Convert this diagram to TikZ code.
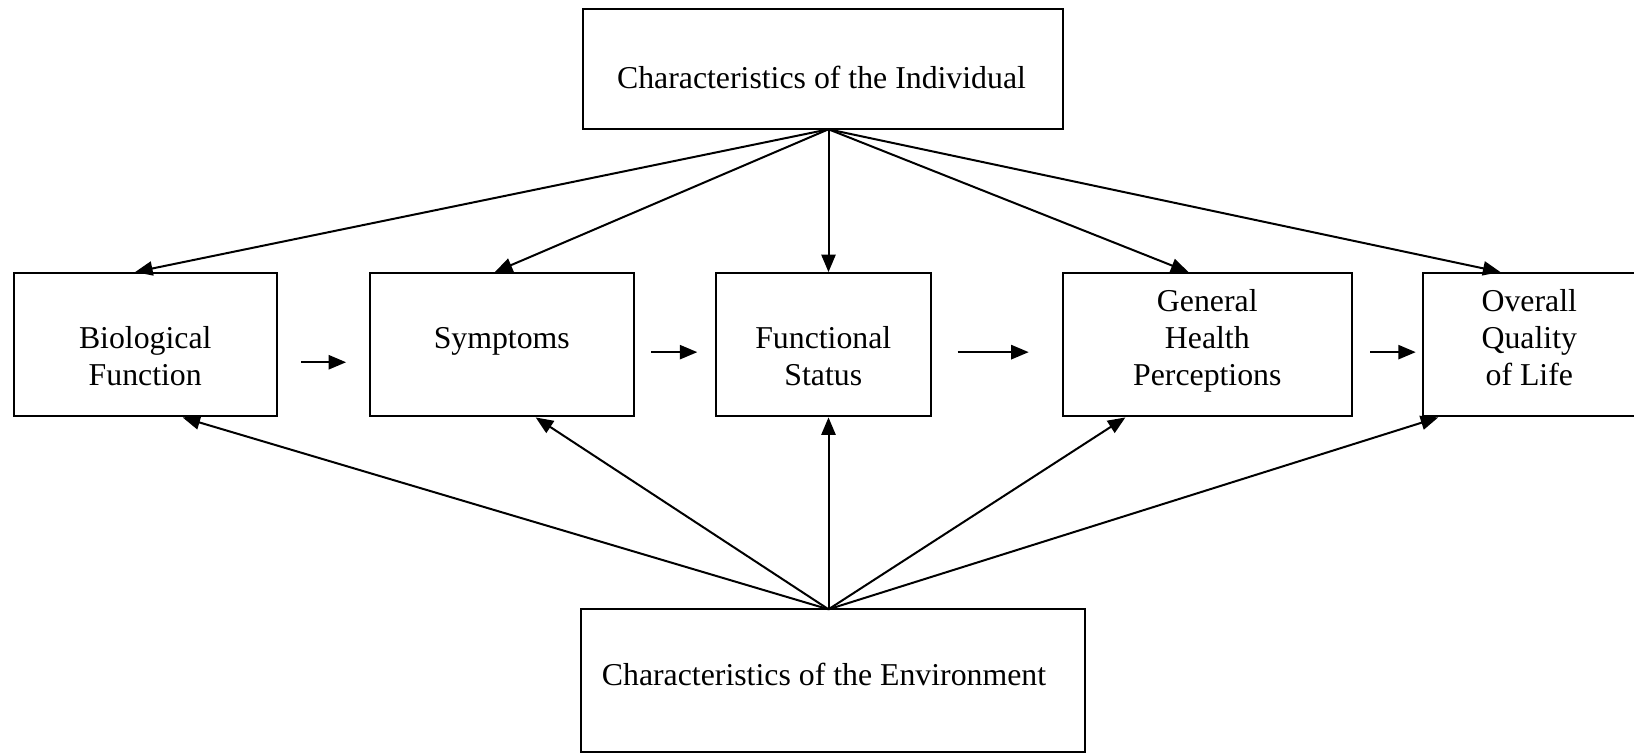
\documentclass[tikz,border=0pt]{standalone}
\usepackage{fontspec}
\setmainfont{Liberation Serif}
\usetikzlibrary{positioning,arrows}

\begin{document}
\begin{tikzpicture}[x=0.5pt,y=-0.5pt,
	box/.style={rectangle,draw,line width=1pt,inner sep=0pt},
	lbl/.style={anchor=base,align=center,inner sep=0pt,font=\fontsize{15.9}{18.5}\selectfont},
	arr/.style={-{triangle 45[scale=1.35]},line width=1pt}]
\useasboundingbox (0,0) rectangle (1634,753);
% the two outer boxes
\node [box,minimum width=240pt,minimum height=60pt] (indiv) at (823,69.3) {};
\node [box,minimum width=252pt,minimum height=71.35pt] (env) at (833,680.6) {};
\node [lbl] (indivtxt) at (821.5,89) {Characteristics of the Individual};
\node [lbl] (envtxt) at (824,685) {Characteristics of the Environment};
% the middle row
\node [box,minimum width=131.75pt,minimum height=71.75pt] (bio) at (145.25,344.75) {};
\node [box,minimum width=131.8pt,minimum height=71.75pt] (sym) at (501.8,344.75) {};
\node [box,minimum width=107.3pt,minimum height=71.75pt] (func) at (823.3,344.75) {};
\node [box,minimum width=144.3pt,minimum height=71.75pt] (gen) at (1207.3,344.75) {};
\node [box,minimum width=106.65pt,minimum height=71.75pt] (qol) at (1529.3,344.75) {};
\node [lbl] (biotxt) at (145.25,386) {Biological\\Function};
\node [lbl] (symtxt) at (501.8,349) {Symptoms};
\node [lbl] (functxt) at (823.3,386) {Functional\\Status};
\node [lbl] (gentxt) at (1207.3,386) {General\\Health\\Perceptions};
\node [lbl] (qoltxt) at (1529.3,386) {Overall\\Quality\\of Life};
% hubs
\coordinate (tophub) at (828.5,129.3);
\coordinate (bothub) at (828.5,609.3);
\draw [arr] (tophub) -- ([xshift=-5pt]bio.north);
\draw [arr] (tophub) -- ([xshift=-3.4pt]sym.north);
\draw [arr] (tophub) -- ([xshift=2.6pt]func.north);
\draw [arr] (tophub) -- ([xshift=-9.5pt]gen.north);
\draw [arr] (tophub) -- ([xshift=-14.5pt]qol.north);
\draw [arr] (bothub) -- ([xshift=18.75pt]bio.south);
\draw [arr] (bothub) -- ([xshift=17pt]sym.south);
\draw [arr] (bothub) -- ([xshift=2.6pt]func.south);
\draw [arr] (bothub) -- ([xshift=-41pt]gen.south);
\draw [arr] (bothub) -- ([xshift=-45.6pt]qol.south);
% arrows along the row
\draw [arr] ([xshift=11.5pt,yshift=-8.75pt]bio.east) -- ([xshift=-11.5pt,yshift=-8.75pt]sym.west);
\draw [arr] ([xshift=8.35pt,yshift=-3.7pt]sym.east) -- ([xshift=-8.9pt,yshift=-3.7pt]func.west);
\draw [arr] ([xshift=13pt,yshift=-3.7pt]func.east) -- ([xshift=-16.7pt,yshift=-3.7pt]gen.west);
\draw [arr] ([xshift=8.85pt,yshift=-3.7pt]gen.east) -- ([xshift=-3pt,yshift=-3.7pt]qol.west);
\end{tikzpicture}
\end{document}
